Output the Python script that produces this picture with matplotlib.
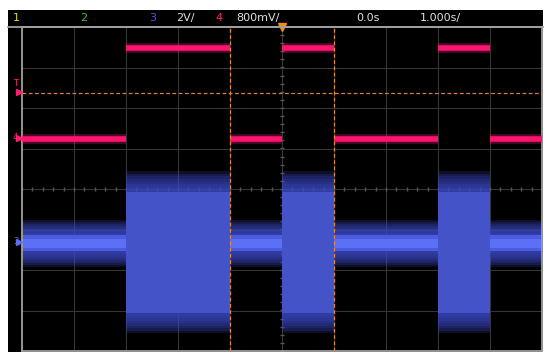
import matplotlib
matplotlib.use("Agg")
import matplotlib.pyplot as plt
import numpy as np

# time axis (s) : 1.000 s/div, 10 div, centred on trigger
edges_t = [-5, -3, -1, 0, 1, 3, 4, 5]
# channel 4 (pink), volts per segment
ch4_level = [0.0, 1.8, 0.0, 1.8, 0.0, 1.8, 0.0]
# channel 3 (blue) noise envelope per segment, volts
ch3_mid = [0.0, -0.45, 0.0, -0.45, 0.0, -0.45, 0.0]
ch3_core = [0.4, 3.0, 0.4, 3.0, 0.4, 3.0, 0.4]
ch3_fuzz = [1.15, 4.0, 1.15, 4.0, 1.15, 4.0, 1.15]

ch4_scale, ch4_pos = 0.8, 1.24    # V/div, marker position in div
ch3_scale, ch3_pos = 2.0, -1.34
trig_level = 0.91                  # V on ch4
cursor_t = [-1, 1]

W, H = 550, 360
fig = plt.figure(figsize=(5.5, 3.6), dpi=100)
fig.patch.set_facecolor("white")

def px(x0, y0, x1, y1):
    return [x0 / W, 1 - y1 / H, (x1 - x0) / W, (y1 - y0) / H]

# black screen
bg = fig.add_axes(px(8, 10, 543, 352))
bg.set_facecolor("black")
bg.set_xticks([]); bg.set_yticks([])
for s in bg.spines.values():
    s.set_visible(False)

ax = fig.add_axes(px(22, 27, 542, 351))
ax.set_facecolor("black")
ax.set_xlim(-5, 5)
ax.set_ylim(-4, 4)
ax.set_xticks([]); ax.set_yticks([])
for s in ax.spines.values():
    s.set_color("#a0a0a0")
    s.set_linewidth(1.3)

grid_c = "#353535"
for gx in range(-4, 5):
    ax.axvline(gx, color=grid_c, lw=0.8, zorder=1)
for gy in range(-3, 4):
    ax.axhline(gy, color=grid_c, lw=0.8, zorder=1)
minor = np.arange(-5, 5.01, 0.2)
ax.plot(minor, np.zeros_like(minor), "|", color="#555555", ms=3, zorder=1)
minor_y = np.arange(-4, 4.01, 0.2)
ax.plot(np.zeros_like(minor_y), minor_y, "_", color="#555555", ms=3, zorder=1)

# channel 3 blue noise band: soft edge from layered fills
n_layers = 8
for i in range(len(ch3_core)):
    xs = [edges_t[i], edges_t[i + 1]]
    mid = ch3_pos + ch3_mid[i] / ch3_scale
    c = ch3_core[i] / ch3_scale
    f = ch3_fuzz[i] / ch3_scale
    for k in range(n_layers):
        h = f - (f - c) * k / n_layers
        ax.fill_between(xs, mid - h, mid + h, color="#3a48c0", alpha=0.22, lw=0, zorder=2)
    if ch3_core[i] < 1:
        ax.fill_between(xs, mid - c, mid + c, color="#4a5ce0", lw=0, zorder=2)
        ax.fill_between(xs, mid - c * 0.55, mid + c * 0.55, color="#5b70f5", lw=0, zorder=2)
    else:
        ax.fill_between(xs, mid - c, mid + c, color="#4454c8", lw=0, zorder=2)

# channel 4 pink trace
for i, v in enumerate(ch4_level):
    y = ch4_pos + v / ch4_scale
    ax.plot([edges_t[i], edges_t[i + 1]], [y, y], color="#ff1f78", lw=7, alpha=0.3,
            solid_capstyle="butt", zorder=3)
    ax.plot([edges_t[i], edges_t[i + 1]], [y, y], color="#ff1470", lw=4,
            solid_capstyle="butt", zorder=3)

# trigger level and cursors
ty = ch4_pos + trig_level / ch4_scale
ax.axhline(ty, color="#d8803a", lw=0.9, ls=(0, (3, 2)), zorder=4)
for ct in cursor_t:
    ax.axvline(ct, color="#e08a30", lw=0.9, ls=(0, (3, 2)), zorder=4)
ax.plot([0], [4], marker="v", color="#f08a20", ms=6, clip_on=False, zorder=5)

# top status bar
bar_y = 1 - 18 / H
fs = 8
fig.text(13 / W, bar_y, "1", color="#d8d830", fontsize=fs, va="center")
fig.text(80 / W, bar_y, "2", color="#40c040", fontsize=fs, va="center")
fig.text(149 / W, bar_y, "3", color="#4a5ae0", fontsize=fs, va="center")
fig.text(176 / W, bar_y, "2V/", color="#e0e0e0", fontsize=fs, va="center")
fig.text(215 / W, bar_y, "4", color="#ff2070", fontsize=fs, va="center")
fig.text(236 / W, bar_y, "800mV/", color="#e0e0e0", fontsize=fs, va="center")
fig.text(356 / W, bar_y, "0.0s", color="#e0e0e0", fontsize=fs, va="center")
fig.text(420 / W, bar_y, "1.000s/", color="#e0e0e0", fontsize=fs, va="center")
fig.add_artist(plt.Line2D([8 / W, 543 / W], [1 - 27 / H, 1 - 27 / H],
                          color="#a0a0a0", lw=1.3))

# left channel markers
def marker(ypix, label, color, dy=0):
    fig.text(13 / W, 1 - (ypix + dy) / H, label, color=color, fontsize=6, va="center")
    fig.add_artist(plt.Line2D([19 / W], [1 - ypix / H], marker=">", color=color, ms=4))

marker(92, "T", "#ff2070", dy=-8)
marker(138, "4", "#ff2070")
marker(242, "3", "#5a6ef2")

fig.savefig("out.png", dpi=100, facecolor="white")
